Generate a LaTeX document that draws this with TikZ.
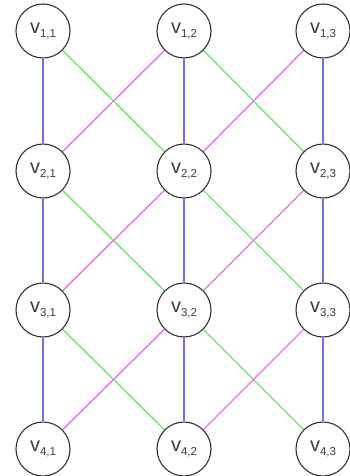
\documentclass[tikz,border=0pt]{standalone}
\usepackage{fontspec}
\setmainfont{Liberation Sans}
\usetikzlibrary{backgrounds}
\definecolor{eblue}{RGB}{110,110,245}
\definecolor{egreen}{RGB}{110,235,110}
\definecolor{emag}{RGB}{240,110,240}
\definecolor{txt}{RGB}{60,60,60}
\definecolor{ring}{RGB}{50,50,50}
\newcommand{\vlab}[1]{{\fontsize{20}{20}\selectfont v}\raisebox{-3.5pt}{\fontsize{11.5}{11.5}\selectfont #1}}
\begin{document}
\begin{tikzpicture}[x=1pt,y=-1pt,
  vtx/.style={circle,draw=ring,line width=1.1pt,fill=white,minimum size=54pt,inner sep=0pt,text=txt},
  vedge/.style={eblue,line width=1.4pt},
  gedge/.style={egreen,line width=1.4pt},
  medge/.style={emag,line width=1.4pt}]
\useasboundingbox (0,0) rectangle (349,476);
\foreach \r/\y in {1/31,2/171,3/310,4/449}{
  \foreach \c/\x in {1/43,2/184,3/323}{
    \node[vtx] (n\r\c) at (\x,\y) {\vlab{\r,\c}};
  }
}
\begin{scope}[on background layer]
\foreach \r/\s in {1/2,2/3,3/4}{
  \foreach \c in {1,2,3}{
    \draw[vedge] (n\r\c) -- (n\s\c);
  }
  \foreach \c/\d in {1/2,2/3}{
    \draw[gedge] (n\r\c) -- (n\s\d);
    \draw[medge] (n\r\d) -- (n\s\c);
  }
}
\end{scope}
\end{tikzpicture}
\end{document}
